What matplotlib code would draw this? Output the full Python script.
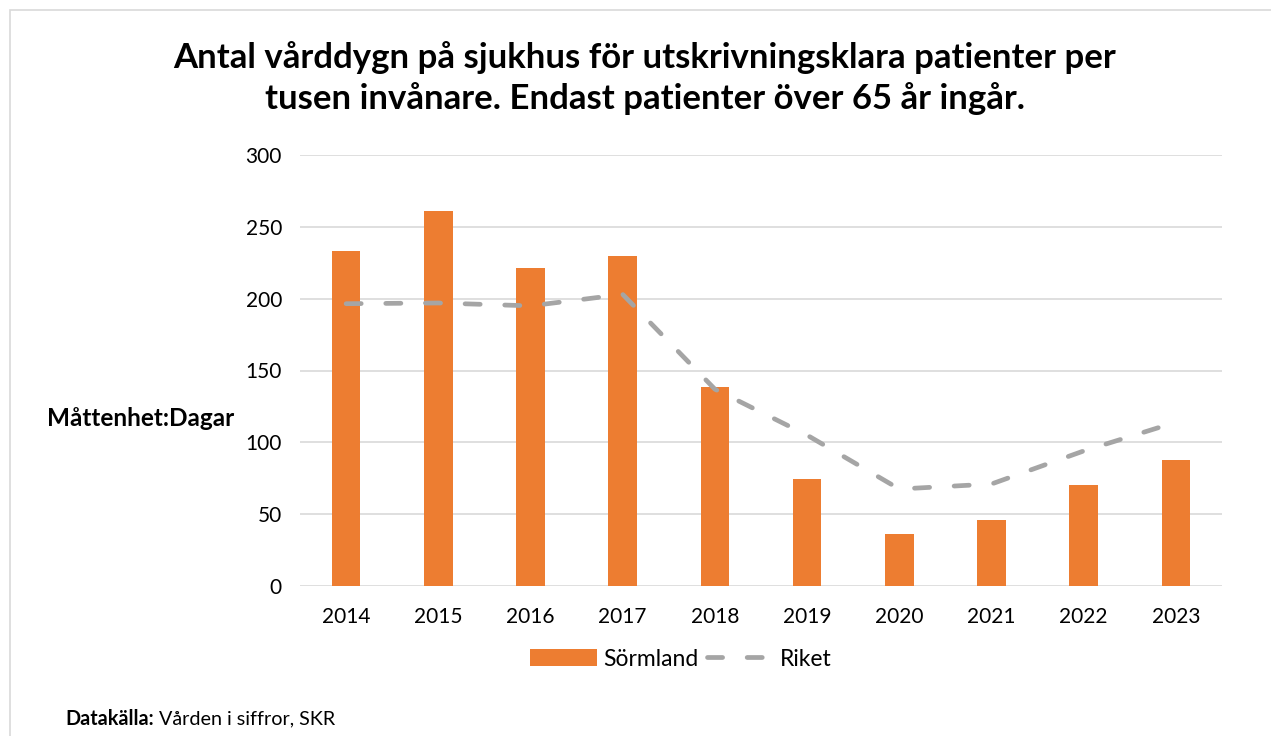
import numpy as np
import matplotlib.pyplot as plt
from matplotlib.patches import Rectangle, Patch
from matplotlib.lines import Line2D

plt.rcParams['font.family'] = ['Lato', 'DejaVu Sans']

years = ["2014", "2015", "2016", "2017", "2018", "2019", "2020", "2021", "2022", "2023"]
sormland = [233.5, 261, 221.5, 230, 138.5, 74.5, 36, 46, 70, 88]
riket = [196.5, 197, 195, 203, 137, 105, 67.5, 71, 94, 114]

orange = "#ED7D31"
grey = "#A5A5A5"

fig = plt.figure(figsize=(12.71, 7.36), dpi=100)
ax = fig.add_axes([300 / 1271, 1 - 586 / 736, 922 / 1271, 431 / 736])

x = np.arange(len(years))
ax.bar(x, sormland, width=0.31, color=orange, zorder=2)
ax.plot(x, riket, color=grey, linewidth=3.4, dashes=(3.2, 5.2),
        dash_capstyle="round", zorder=3)

ax.set_xlim(-0.5, len(years) - 0.5)
ax.set_ylim(0, 300)
ax.set_yticks(range(0, 301, 50))
ax.set_xticks(x)
ax.set_xticklabels(years)
ax.tick_params(length=0, labelsize=15, colors="#000000")
ax.tick_params(axis="y", pad=13)
ax.tick_params(axis="x", pad=15)
ax.grid(True, axis="y", color="#D9D9D9", linewidth=1.2, zorder=0)
for s in ax.spines.values():
    s.set_visible(False)

fig.suptitle("Antal vårddygn på sjukhus för utskrivningsklara patienter per\n"
             "tusen invånare. Endast patienter över 65 år ingår.",
             x=645 / 1271, y=1 - 41 / 736, va="top", fontsize=25,
             fontweight="bold", linespacing=1.3)

fig.text(47 / 1271, 1 - 418 / 736, "Måttenhet:Dagar", fontsize=17.5,
         fontweight="bold", ha="left", va="center")

handles = [Patch(facecolor=orange, edgecolor="none"),
           Line2D([], [], color=grey, linewidth=3.4, dashes=(3.2, 5.2),
                  dash_capstyle="round")]
fig.legend(handles, ["Sörmland", "Riket"], loc="center",
           bbox_to_anchor=(681 / 1271, 1 - 659 / 736), ncol=2, frameon=False,
           fontsize=16.5, handlelength=2.9, handleheight=0.8, columnspacing=0.35,
           handletextpad=0.3)

t1 = fig.text(65 / 1271, 1 - 719 / 736, "Datakälla:", fontsize=14.2,
              fontweight="bold", ha="left", va="center")
ax.annotate(" Vården i siffror, SKR", xy=(1, 0.5), xycoords=t1, fontsize=14.2,
            ha="left", va="center")

fig.patches.append(Rectangle((10 / 1271, -0.01), 1.0, 1 - 10 / 736 + 0.01,
                             transform=fig.transFigure, fill=False,
                             edgecolor="#D9D9D9", linewidth=1.2))

fig.savefig("out.png", dpi=100)
